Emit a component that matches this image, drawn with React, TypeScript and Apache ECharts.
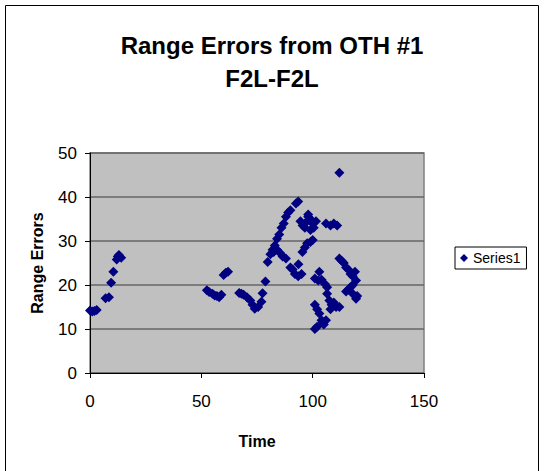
import React, { useEffect, useRef } from "react";
import * as echarts from "echarts";

const titleLines = ["Range Errors from OTH #1", "F2L-F2L"];
const seriesName = "Series1";
const xTicks = [0, 50, 100, 150];
const yTicks = [0, 10, 20, 30, 40, 50];

const timeValues = [
  0, 1, 2, 3, 7, 8.5, 9.5, 10.5, 12, 12.5, 13, 14,
  52.5, 53.5, 55, 56, 57, 58, 59, 60, 61, 62,
  67, 68, 69, 70.5, 72, 73, 74, 75.5, 77, 77.5, 78.8,
  79.8, 81, 82, 83, 84, 85, 86, 87, 88, 89, 90, 92.5, 93.5,
  82.5, 84, 85.5, 86.5, 88,
  90, 91, 92, 93.5, 95, 93.6,
  95.4, 96.5, 97.5, 99, 100,
  94.5, 95.5, 96.5, 97.5, 98, 99, 100, 100.5, 101.5, 99, 98,
  106, 108, 109.5, 111, 112,
  103, 101, 102.5, 104, 105.5, 106.5,
  106.5, 107.5, 108.5, 109.5, 110.5, 108,
  101, 102, 103, 104, 104.5, 102, 101, 105, 106,
  112, 113, 114, 115, 116, 117, 118, 119, 119.5, 118, 117, 116, 115, 118, 120, 119.5, 112,
];

const rangeErrors = [
  14.2, 14.0, 14.1, 14.3, 17.0, 17.2, 20.5, 23.0, 25.8, 26.5, 26.8, 26.2,
  18.8, 18.4, 18.0, 17.6, 17.5, 17.2, 17.8, 22.3, 22.8, 23.0,
  18.2, 18.0, 17.8, 17.2, 16.5, 15.5, 14.6, 15.0, 16.2, 18.1, 20.8,
  25.2, 27.0, 28.0, 29.0, 30.5, 31.5, 33.0, 34.0, 35.5, 36.5, 37.0, 38.5, 39.0,
  27.5, 28.0, 27.2, 26.5, 26.0,
  24.0, 23.5, 22.5, 22.0, 22.5, 24.7,
  27.5, 28.5, 29.5, 29.8, 30.2,
  34.5, 33.5, 33.0, 34.5, 35.5, 35.0, 34.0, 33.0, 34.5, 32.5, 36.0,
  34.0, 33.5, 34.0, 33.5, 45.5,
  23.0, 21.5, 21.0, 21.2, 20.2, 19.5,
  18.0, 16.5, 15.5, 16.0, 15.0, 14.5,
  15.5, 14.5, 13.5, 12.0, 11.5, 10.5, 10.0, 11.0, 12.0,
  26.0, 25.5, 25.0, 24.0, 23.5, 22.5, 22.0, 23.0, 21.0, 20.0, 19.5, 19.0, 18.5, 18.0, 17.5, 16.9, 15.0,
];

const FONT = "'Liberation Sans', Arial, sans-serif";

export default function App() {
  const ref = useRef<HTMLDivElement>(null);
  useEffect(() => {
    if (!ref.current) return;
    const chart = echarts.init(ref.current, null, { renderer: "svg" });
    const points = timeValues.map((t, i) => [t, rangeErrors[i]]);
    chart.setOption({
      animation: false,
      backgroundColor: "#ffffff",
      textStyle: { fontFamily: FONT },
      title: {
        text: titleLines.join("\n"),
        left: "center",
        top: 24,
        textStyle: {
          fontFamily: FONT,
          fontSize: 24,
          fontWeight: "bold",
          color: "#000",
          lineHeight: 33,
        },
      },
      legend: {
        data: [{ name: seriesName, icon: "diamond" }],
        left: 455,
        top: 247,
        orient: "vertical",
        itemWidth: 8,
        itemHeight: 8,
        itemGap: 4,
        padding: [4, 6, 4, 5],
        borderColor: "#000",
        borderWidth: 1,
        textStyle: { fontFamily: FONT, fontSize: 14, color: "#000" },
      },
      graphic: [
        {
          type: "rect",
          shape: { x: 5.5, y: 5.5, width: 533, height: 475 },
          style: { fill: "none", stroke: "#000", lineWidth: 1 },
          silent: true,
          z: -1,
        },
      ],
      grid: {
        left: 90,
        top: 153,
        width: 334,
        height: 220,
        show: true,
        backgroundColor: "#C0C0C0",
        borderColor: "#808080",
        borderWidth: 1.5,
      },
      xAxis: {
        type: "value",
        min: xTicks[0],
        max: xTicks[xTicks.length - 1],
        interval: 50,
        name: "Time",
        nameLocation: "middle",
        nameGap: 60,
        nameTextStyle: { fontFamily: FONT, fontSize: 16, fontWeight: "bold", color: "#000" },
        axisLine: { show: true, onZero: false, lineStyle: { color: "#000", width: 1 } },
        axisTick: { show: true, inside: false, length: 5, lineStyle: { color: "#000" } },
        axisLabel: { margin: 20, fontFamily: FONT, fontSize: 17, color: "#000" },
        splitLine: { show: false },
      },
      yAxis: {
        type: "value",
        min: yTicks[0],
        max: yTicks[yTicks.length - 1],
        interval: 10,
        name: "Range Errors",
        nameLocation: "middle",
        nameGap: 45,
        nameTextStyle: { fontFamily: FONT, fontSize: 16, fontWeight: "bold", color: "#000" },
        axisLine: { show: true, onZero: false, lineStyle: { color: "#000", width: 1 } },
        axisTick: { show: true, inside: false, length: 5, lineStyle: { color: "#000" } },
        axisLabel: { margin: 13, fontFamily: FONT, fontSize: 17, color: "#000" },
        splitLine: { show: true, lineStyle: { color: "#666", width: 1.5 } },
      },
      series: [
        {
          name: seriesName,
          type: "scatter",
          symbol: "diamond",
          symbolSize: 10,
          itemStyle: { color: "#000080", opacity: 1 },
          data: points,
        },
      ],
    });
    return () => chart.dispose();
  }, []);
  return (
    <div
      ref={ref}
      style={{ position: "fixed", left: 0, top: 0, width: 544, height: 471 }}
    />
  );
}
